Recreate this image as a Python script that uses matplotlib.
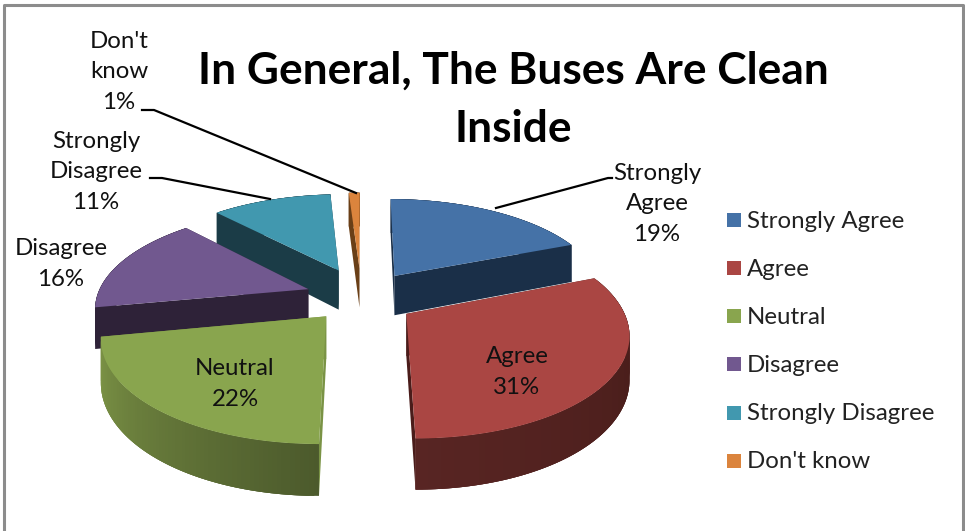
import numpy as np
import matplotlib
matplotlib.use('Agg')
import matplotlib.pyplot as plt
from matplotlib.collections import PolyCollection
from matplotlib.colors import to_rgb

plt.rcParams['font.family'] = ['Lato', 'DejaVu Sans']

categorias = ['Strongly Agree', 'Agree', 'Neutral', 'Disagree', 'Strongly Disagree', "Don't know"]
valores = [19, 31, 22, 16, 11, 1]

cores = ['#4572a7', '#aa4643', '#89a54e', '#71588f', '#4198af', '#db843d']
# parede de dentro e parede de fora (inicio, fim)
cor_dentro = ['#1a2f48', '#4a1c1a', '#7a9345', '#2e2238', '#1b3c47', '#6a3f17']
cor_fora = [('#1a2f48', '#1a2f48'), ('#431a17', '#582523'), ('#4c5a2c', '#7e9647'),
            ('#2e2238', '#2e2238'), ('#1b3c47', '#1b3c47'), ('#6a3f17', '#6a3f17')]

# perspectiva da pizza, em pixels
cx, cy = 360, 296
rx, ry = 212, 97
k = 0.17
expl_u, expl_v = 0.24, 0.30
prof = 41
# acerto fino de cada fatia (dx, dy)
acerto = [(7, 3), (3, 1), (0, -3), (-4, 2), (-2, 0), (1, 0)]


def proj(u, v):
    esc = 1 / (1 + k * v)
    return cx + rx * u * esc, cy - ry * v * esc, esc


fig = plt.figure(figsize=(9.65, 5.31), dpi=100)
ax = fig.add_axes([0, 0, 1, 1])
ax.set_xlim(0, 965)
ax.set_ylim(531, 0)
ax.axis('off')

# moldura
ax.plot([3.5, 3.5, 962.5, 962.5], [531, 5, 5, 531], color='#8c8c8c', lw=2.2)

ini = np.cumsum([0] + valores[:-1]) / sum(valores) * 2 * np.pi
fim = np.cumsum(valores) / sum(valores) * 2 * np.pi

# ordem de desenho: de tras para a frente
for z, i in enumerate([4, 0, 5, 3, 1, 2]):
    t = np.linspace(ini[i], fim[i], 80)
    m = (ini[i] + fim[i]) / 2
    u0, v0 = expl_u * np.sin(m), expl_v * np.cos(m)
    u = u0 + np.sin(t)
    v = v0 + np.cos(t)
    x, y, e = proj(u, v)
    ax0, ay0, ae = proj(np.array([u0]), np.array([v0]))
    x, ax0 = x + acerto[i][0], ax0 + acerto[i][0]
    y, ay0 = y + acerto[i][1], ay0 + acerto[i][1]
    zo = 2 + z * 0.1

    # paredes retas
    for xa, ya, ea in [(x[0], y[0], e[0]), (x[-1], y[-1], e[-1])]:
        ax.fill([ax0[0], xa, xa, ax0[0]],
                [ay0[0], ya, ya + prof * ea, ay0[0] + prof * ae[0]],
                color=cor_dentro[i], lw=0, zorder=zo)

    # parede curva com gradiente, cada pedaco cobre o seguinte para nao ficar listrado
    c1, c2 = np.array(to_rgb(cor_fora[i][0])), np.array(to_rgb(cor_fora[i][1]))
    quads, cs = [], []
    for j in range(len(t) - 1):
        n = min(j + 3, len(t) - 1)
        quads.append(list(zip(x[j:n + 1], y[j:n + 1])) +
                     list(zip(x[j:n + 1][::-1], (y + prof * e)[j:n + 1][::-1])))
        cs.append(c1 + (c2 - c1) * j / (len(t) - 2))
    ax.add_collection(PolyCollection(quads, facecolors=cs, edgecolors='none', linewidths=0, zorder=zo + 0.01))

    # tampa
    ax.fill(np.r_[ax0, x], np.r_[ay0, y], color=cores[i], lw=0, zorder=zo + 0.02)

# rotulos
tam = 17.3
txt = dict(fontsize=tam, color='#111111', ha='center', va='center', linespacing=1.55, zorder=10)
ax.text(657, 204, 'Strongly\nAgree\n19%', **txt)
ax.text(517, 372, 'Agree\n31%', **txt)
ax.text(235, 384, 'Neutral\n22%', **txt)
ax.text(61, 264, 'Disagree\n16%', **txt)
ax.text(96, 172, 'Strongly\nDisagree\n11%', **txt)
ax.text(119, 72, "Don't\nknow\n1%", **txt)

# linhas de chamada
ax.plot([496, 608, 612], [208, 178, 178], color='black', lw=1.6, zorder=9)
ax.plot([150, 162, 270], [178, 178, 199], color='black', lw=1.6, zorder=9)
ax.plot([142, 154, 356], [110, 110, 193], color='black', lw=1.6, zorder=9)

# titulo
ax.text(513, 100, 'In General, The Buses Are Clean\nInside', fontsize=31.9, fontweight='bold',
        color='black', ha='center', va='center', linespacing=1.55, zorder=10)

# legenda
ly = [220, 268, 316, 364, 413, 461]
for i, nome in enumerate(categorias):
    ax.fill([727, 741, 741, 727], [ly[i] - 7, ly[i] - 7, ly[i] + 7, ly[i] + 7], color=cores[i], lw=0)
    ax.text(747, ly[i] + 1, nome, fontsize=tam, color='#222222', ha='left', va='center')

fig.savefig('out.png', dpi=100)
